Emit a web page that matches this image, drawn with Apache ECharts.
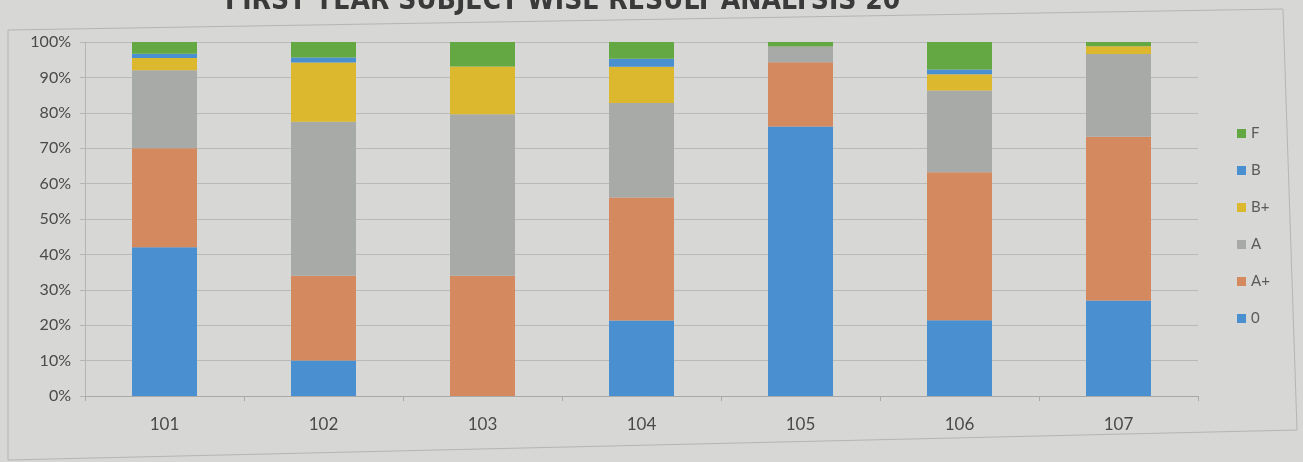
<!DOCTYPE html>
<html>
<head>
<meta charset="utf-8">
<script src="https://cdn.jsdelivr.net/npm/echarts@6/dist/echarts.min.js"></script>
<style>
html,body{margin:0;padding:0;background:#d7d7d5;}
#chart{width:1303px;height:462px;}
</style>
</head>
<body>
<div id="chart"></div>
<script>
const categories = ['101','102','103','104','105','106','107'];
const seriesNames = ['0','A+','A','B+','B','F'];
const valO     = [42, 10, 0, 21.3, 76.1, 21.4, 27];
const valAplus = [28, 24, 34, 34.8, 18.2, 41.8, 46.2];
const valA     = [22, 43.5, 45.6, 26.7, 4.4, 23.1, 23.4];
const valBplus = [3.5, 16.7, 13.5, 10.2, 0, 4.6, 2.2];
const valB     = [1.2, 1.4, 0, 2.3, 0, 1.3, 0];
const valF     = [3.3, 4.4, 6.9, 4.7, 1.3, 7.8, 1.2];
const yTicks = [0,10,20,30,40,50,60,70,80,90,100];
const titleText = 'FIRST YEAR SUBJECT WISE RESULT ANALYSIS 20';

const colors = ['#4a8fd0','#d4895e','#a8aaa7','#dcb82e','#4a8fd0','#64a844'];
const allVals = [valO, valAplus, valA, valBplus, valB, valF];

const chart = echarts.init(document.getElementById('chart'));
chart.setOption({
  backgroundColor: '#d7d7d5',
  animation: false,
  graphic: [
    {type:'polygon', shape:{points:[[8,30],[1283,9],[1297,430],[8,460]]}, style:{fill:'none', stroke:'#b5b5b3', lineWidth:1}, z:-1},
    {type:'text', left:225, top:-12, style:{text:titleText, font:'bold 28px "DejaVu Sans Condensed", "DejaVu Sans"', fill:'#3a3a3a'}}
  ],
  grid: {left:85, right:105, top:42, bottom:66},
  legend: {
    orient:'vertical', left:1232, top:121, itemGap:22, itemWidth:9, itemHeight:9,
    icon:'rect',
    data: ['F','B','B+','A','A+','0'],
    textStyle:{color:'#5a5a5a', fontSize:15, fontFamily:'Lato, sans-serif'}
  },
  xAxis: {
    type:'category', data:categories,
    axisLine:{lineStyle:{color:'#a9a9a7'}},
    axisTick:{show:true, length:5, lineStyle:{color:'#a9a9a7'}},
    axisLabel:{color:'#4a4a4a', fontSize:17, margin:20, fontFamily:'Lato, sans-serif'}
  },
  yAxis: {
    type:'value', min:0, max:100, interval:10,
    axisLine:{show:true, lineStyle:{color:'#b5b5b3'}},
    axisTick:{show:true, length:5, lineStyle:{color:'#b5b5b3'}},
    splitLine:{lineStyle:{color:'#b9b9b7'}},
    axisLabel:{color:'#4a4a4a', fontSize:16, margin:14, fontFamily:'Lato, sans-serif',
      formatter: v => yTicks.includes(v) ? v + '%' : ''}
  },
  series: seriesNames.map((n,i) => ({
    name:n, type:'bar', stack:'total', barWidth:65,
    itemStyle:{color:colors[i]},
    data: allVals[i]
  }))
});
</script>
</body>
</html>
